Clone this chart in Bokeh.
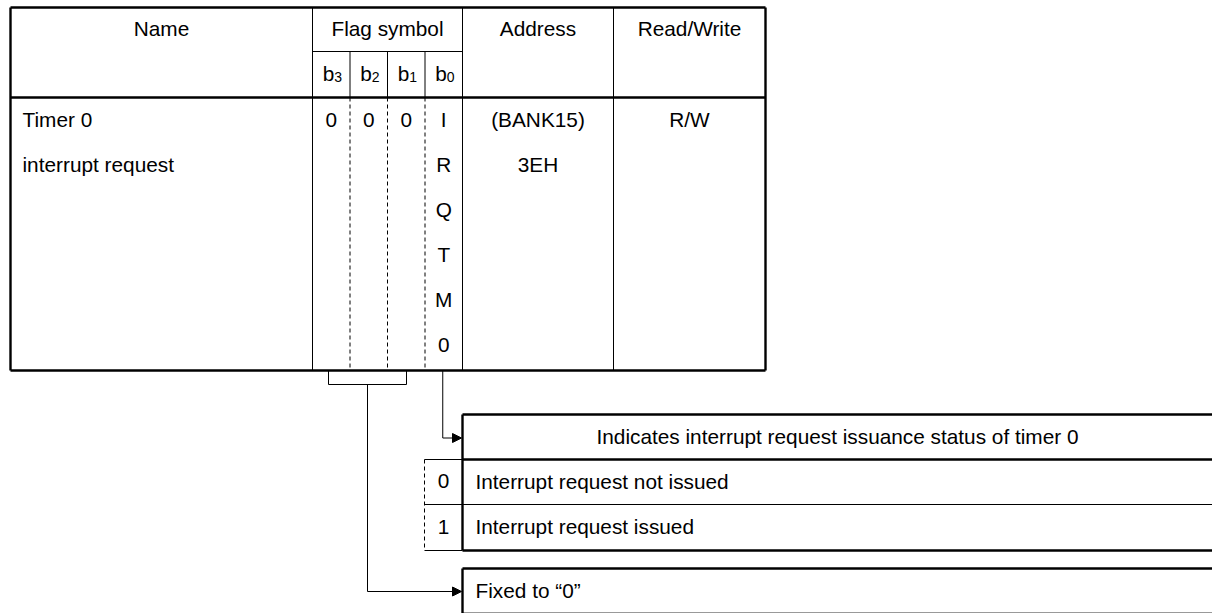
from bokeh.plotting import figure
from bokeh.models import Range1d, Arrow, NormalHead
from bokeh.core.properties import value
from bokeh.embed import file_html
from bokeh.resources import INLINE

# ---------------- content (texts) ----------------
header_labels = ["Name", "Flag symbol", "Address", "Read/Write"]
bit_names = ["3", "2", "1", "0"]            # subscripts of b3..b0
fixed_bits = ["0", "0", "0"]                # values of b3, b2, b1
flag_letters = ["I", "R", "Q", "T", "M", "0"]  # b0 flag name, written vertically
name_lines = ["Timer 0", "interrupt request"]
address_lines = ["(BANK15)", "3EH"]
rw_label = "R/W"
desc_title = "Indicates interrupt request issuance status of timer 0"
desc_codes = ["0", "1"]
desc_texts = ["Interrupt request not issued", "Interrupt request issued"]
fixed_text = "Fixed to \u201c0\u201d"

# ---------------- layout (pixel coordinates of the page) ----------------
X_L, X_N, X_F, X_A, X_R = 10, 312, 462, 613, 765
bit_x = [312, 349.5, 387, 424.5, 462]
Y_T, Y_SUB, Y_H, Y_B = 7, 51, 97, 370
row_y = [120, 165, 210, 255, 300, 345]
BX_L, BX_R = 462, 1212
B1_T, B1_H, B1_M, B1_B = 414, 459, 504, 550
B2_T, B2_B = 568, 612
CODE_L = 424

FONT = value("Liberation Sans")
FS = "20.8px"
FS_SUB = "14px"
DY = -1  # vertical nudge of all texts

W, H = 1212, 613
p = figure(width=W, height=H, x_range=Range1d(0, W), y_range=Range1d(H, 0),
           output_backend="svg", toolbar_location=None, min_border=0)
p.axis.visible = False
p.grid.visible = False
p.outline_line_color = None
p.background_fill_color = "white"
p.border_fill_color = "white"


def seg(x0, y0, x1, y1, w=1.0, dash="solid", color="black"):
    p.segment(x0=[x0], y0=[y0], x1=[x1], y1=[y1], line_color=color, line_width=w, line_dash=dash)


def txt(x, y, s, align="center", size=FS):
    p.text(x=[x], y=[y + DY], text=[s], text_font=FONT, text_font_size=size, text_align=align,
           text_baseline="middle", text_color="black")


THICK = 2.4
# ---- upper table ----
for xv in (X_N, X_F, X_A):
    seg(xv, Y_T, xv, Y_B)
seg(X_N, Y_SUB, X_F, Y_SUB)
for xv in bit_x[1:4]:
    seg(xv, Y_SUB, xv, Y_H)
    seg(xv, Y_H, xv, Y_B, dash="4 3")
# outer border and header rule
seg(X_L, Y_T, X_R, Y_T, THICK)
seg(X_L, Y_B, X_R, Y_B, THICK)
seg(X_L, Y_T, X_L, Y_B, THICK)
seg(X_R, Y_T, X_R, Y_B, THICK)
seg(X_L, Y_H, X_R, Y_H, THICK)

# header texts
hy = (Y_T + Y_SUB) / 2
txt((X_L + X_N) / 2, hy, header_labels[0])
txt((X_N + X_F) / 2, hy, header_labels[1])
txt((X_F + X_A) / 2, hy, header_labels[2])
txt((X_A + X_R) / 2, hy, header_labels[3])

# b3..b0 with subscripts
sy = (Y_SUB + Y_H) / 2
for i, sub in enumerate(bit_names):
    cx = (bit_x[i] + bit_x[i + 1]) / 2
    txt(cx + 3, sy, "b", align="right")
    txt(cx + 3, sy + 3, sub, align="left", size=FS_SUB)

# body
for i, v in enumerate(fixed_bits):
    cx = (bit_x[i] + bit_x[i + 1]) / 2
    txt(cx, row_y[0], v)
b0x = (bit_x[3] + bit_x[4]) / 2
for j, ch in enumerate(flag_letters):
    txt(b0x, row_y[j], ch)
for j, s in enumerate(name_lines):
    txt(22, row_y[j], s, align="left")
for j, s in enumerate(address_lines):
    txt((X_F + X_A) / 2, row_y[j], s)
txt((X_A + X_R) / 2, row_y[0], rw_label)

# ---- bracket for b3..b1 and leader lines ----
BR_L, BR_R, BR_Y = 328, 406, 384
seg(BR_L, Y_B, BR_L, BR_Y)
seg(BR_R, Y_B, BR_R, BR_Y)
seg(BR_L, BR_Y, BR_R, BR_Y)
brc = (BR_L + BR_R) / 2
fixed_y = (B2_T + B2_B) / 2 + 1
seg(brc, BR_Y, brc, fixed_y)
p.add_layout(Arrow(end=NormalHead(size=9, fill_color="black", line_color="black"),
                   x_start=brc, y_start=fixed_y, x_end=BX_L - 1, y_end=fixed_y,
                   line_color="black", line_width=1))

arrow_y = (B1_T + B1_H) / 2 + 1
seg(b0x - 1, Y_B, b0x - 1, arrow_y)
p.add_layout(Arrow(end=NormalHead(size=9, fill_color="black", line_color="black"),
                   x_start=b0x - 1, y_start=arrow_y, x_end=BX_L - 1, y_end=arrow_y,
                   line_color="black", line_width=1))

# ---- description box for b0 ----
seg(BX_L, B1_T, BX_R, B1_T, THICK)
seg(BX_L, B1_H, BX_R, B1_H, THICK)
seg(CODE_L, B1_M, BX_R, B1_M)
seg(BX_L, B1_B, BX_R, B1_B, THICK)
seg(BX_L, B1_T, BX_L, B1_B, THICK)
seg(CODE_L, B1_H, BX_L, B1_H)
seg(CODE_L, B1_B, BX_L, B1_B)
seg(CODE_L, B1_H, CODE_L, B1_B, dash="4 3")
txt((BX_L + BX_R) / 2, (B1_T + B1_H) / 2, desc_title)
ry = [(B1_H + B1_M) / 2, (B1_M + B1_B) / 2]
for j in range(2):
    txt((CODE_L + BX_L) / 2, ry[j], desc_codes[j])
    txt(475, ry[j], desc_texts[j], align="left")

# ---- box for fixed bits ----
seg(BX_L, B2_T, BX_R, B2_T, THICK)
seg(BX_L, B2_B, BX_R, B2_B, 1, color="#999999")
seg(BX_L, B2_T, BX_L, B2_B + 2, THICK)
txt(475, (B2_T + B2_B) / 2 + 1, fixed_text, align="left")

open("out.html", "w").write(file_html(p, INLINE))
